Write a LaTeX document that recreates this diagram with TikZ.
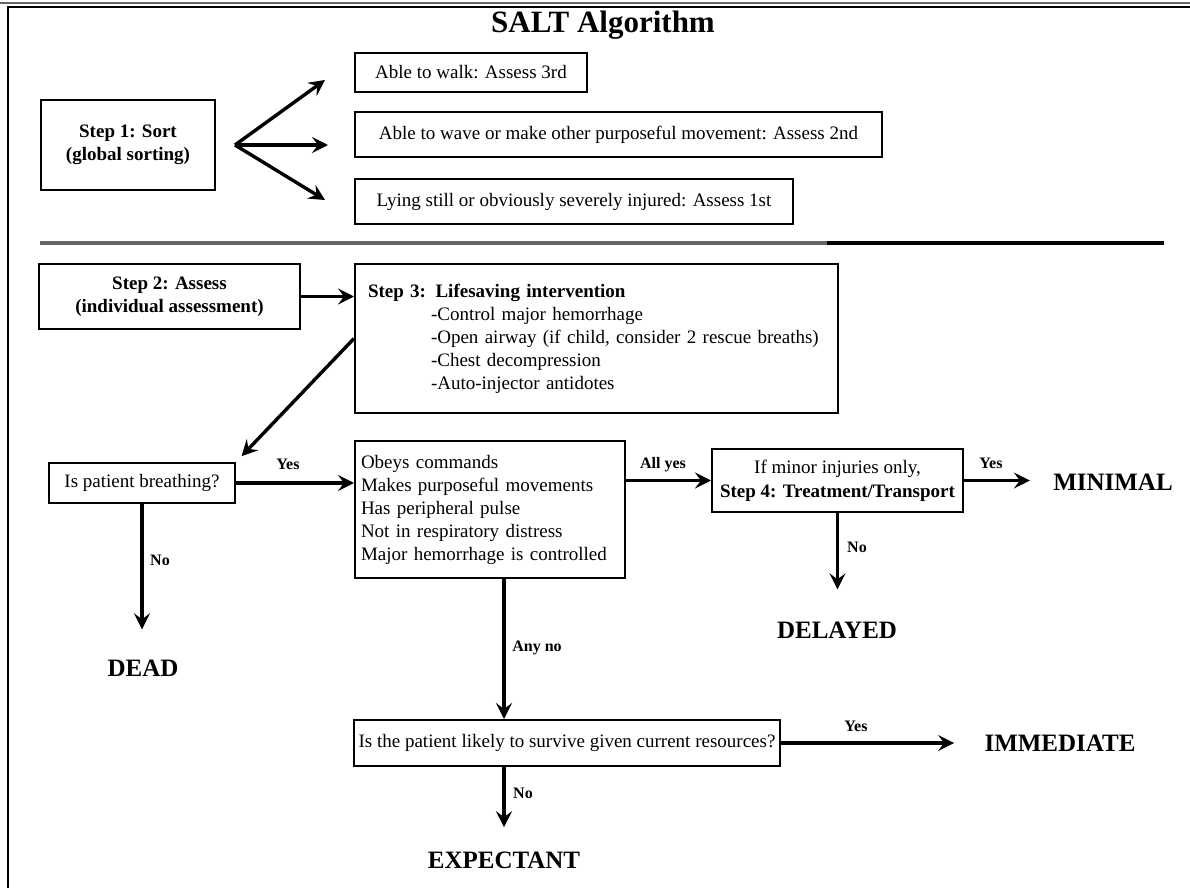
\documentclass[tikz,border=0pt]{standalone}
\usepackage{fontspec}
\setmainfont{Liberation Serif}
\usepackage{tikz}
\usetikzlibrary{arrows.meta, positioning}
\definecolor{rulegray}{rgb}{0.4, 0.4, 0.4}

\begin{document}
\begin{tikzpicture}[x=0.5pt, y=-0.5pt,
		box/.style={draw, line width=1pt, inner sep=0pt, align=center, font=\fontsize{9.5}{11.5}\selectfont},
		flow/.style={line width=1.7pt, -{Stealth[length=8pt, width=8pt, inset=3pt]}},
		answer/.style={font=\fontsize{8}{9}\selectfont\bfseries},
		outcome/.style={inner sep=0pt, font=\fontsize{12.5}{14}\selectfont\bfseries}]
		  \useasboundingbox (0,0) rectangle (1190,888);

		  % draws the frame and the divider
		    \draw[line width=0.8pt, color=rulegray] (0,3)--(1190,3);
		    \draw[line width=1pt] (8,888)--(8,7)--(1190,7);
		    \draw[line width=1.6pt, color=rulegray] (40,243)--(827,243);
		    \draw[line width=1.6pt] (827,243)--(1164,243);
		  \node[font=\fontsize{15.5}{18}\selectfont\bfseries] (title) at (603,25) {SALT Algorithm};

		  % draws step 1
		  \node[box, font=\fontsize{9.5}{11.5}\selectfont\bfseries, minimum width=87pt, minimum height=45pt] (sort) at (128,145) {Step 1: Sort\\(global sorting)};
		  \node[box, minimum width=116pt, minimum height=19.5pt] (walk) at (471,72.5) {Able to walk: Assess 3rd};
		  \node[box, minimum width=263.5pt, minimum height=22.5pt] (wave) at (618.5,134.5) {Able to wave or make other purposeful movement: Assess 2nd};
		  \node[box, minimum width=219pt, minimum height=22.5pt] (still) at (574,201.5) {Lying still or obviously severely injured: Assess 1st};
		  \coordinate (fork) at (235,145);
		  \coordinate (walktip) at (325,80);
		  \coordinate (wavetip) at (328,145);
		  \coordinate (stilltip) at (325,200);
		  \foreach \tip in {walktip, wavetip, stilltip}
		    \draw[flow] (fork) -- (\tip);

		  % draws steps 2 and 3
		  \node[box, font=\fontsize{9.5}{11.5}\selectfont\bfseries, minimum width=130.5pt, minimum height=32.5pt] (assess) at (169.5,296.5) {Step 2: Assess\\(individual assessment)};
		  \node[box, align=left, text width=228.5pt, inner xsep=6.5pt, minimum height=74.5pt] (lifesave) at (596.5,338.5) {\textbf{Step 3: Lifesaving intervention}\\
		    \hspace*{31.5pt}-Control major hemorrhage\\
		    \hspace*{31.5pt}-Open airway (if child, consider 2 rescue breaths)\\
		    \hspace*{31.5pt}-Chest decompression\\
		    \hspace*{31.5pt}-Auto-injector antidotes};
		  \draw[flow] (assess.east) -- (assess.east -| lifesave.west);

		  % draws the triage questions
		  \node[box, minimum width=93pt, minimum height=20pt] (breathing) at (142,483) {Is patient breathing?};
		  \node[box, align=left, text width=129pt, inner xsep=3pt, minimum height=68.5pt] (obeys) at (490,509.5) {Obeys commands\\Makes purposeful movements\\Has peripheral pulse\\Not in respiratory distress\\Major hemorrhage is controlled};
		  \node[box, font=\fontsize{9.5}{12}\selectfont, minimum width=125.5pt, minimum height=31.5pt] (minor) at (837.5,480.5) {If minor injuries only,\\\textbf{Step 4: Treatment/Transport}};
		  \node[box, minimum width=213pt, minimum height=23pt] (survive) at (567,743) {Is the patient likely to survive given current resources?};

		  % draws the categories
		  \node[outcome] (dead) at (143,668) {DEAD};
		  \node[outcome] (delayed) at (837,630) {DELAYED};
		  \node[outcome] (minimal) at (1113,482) {MINIMAL};
		  \node[outcome] (immediate) at (1060,743) {IMMEDIATE};
		  \node[outcome] (expectant) at (504,860) {EXPECTANT};

		  % draws the answers
		  \draw[flow, shorten >=4pt] (lifesave.west) -- (breathing.north east);
		  \draw[flow] (breathing.east) -- (breathing.east -| obeys.west);
		  \draw[flow, shorten >=15pt] (breathing.south) -- (breathing.south |- dead.north);
		  \draw[flow] (minor.west -| obeys.east) -- (minor.west);
		  \draw[flow, shorten >=11.5pt] (minor.east) -- (minor.east -| minimal.west);
		  \draw[flow, shorten >=16pt] (minor.south) -- (minor.south |- delayed.north);
		  \draw[flow] (obeys.south -| expectant) -- (survive.north -| expectant);
		  \draw[flow, shorten >=15pt] (survive.east) -- (survive.east -| immediate.west);
		  \draw[flow, shorten >=12pt] (survive.south -| expectant) -- (expectant.north);
		  \node[answer] (yes1) at (288,464) {Yes};
		  \node[answer] (no1) at (160,560) {No};
		  \node[answer] (allyes) at (663,465) {All yes};
		  \node[answer] (yes2) at (991,463) {Yes};
		  \node[answer] (no2) at (857,547) {No};
		  \node[answer] (anyno) at (537,648) {Any no};
		  \node[answer] (yes3) at (856,726) {Yes};
		  \node[answer] (no3) at (523,793) {No};
	  \end{tikzpicture}
\end{document}
